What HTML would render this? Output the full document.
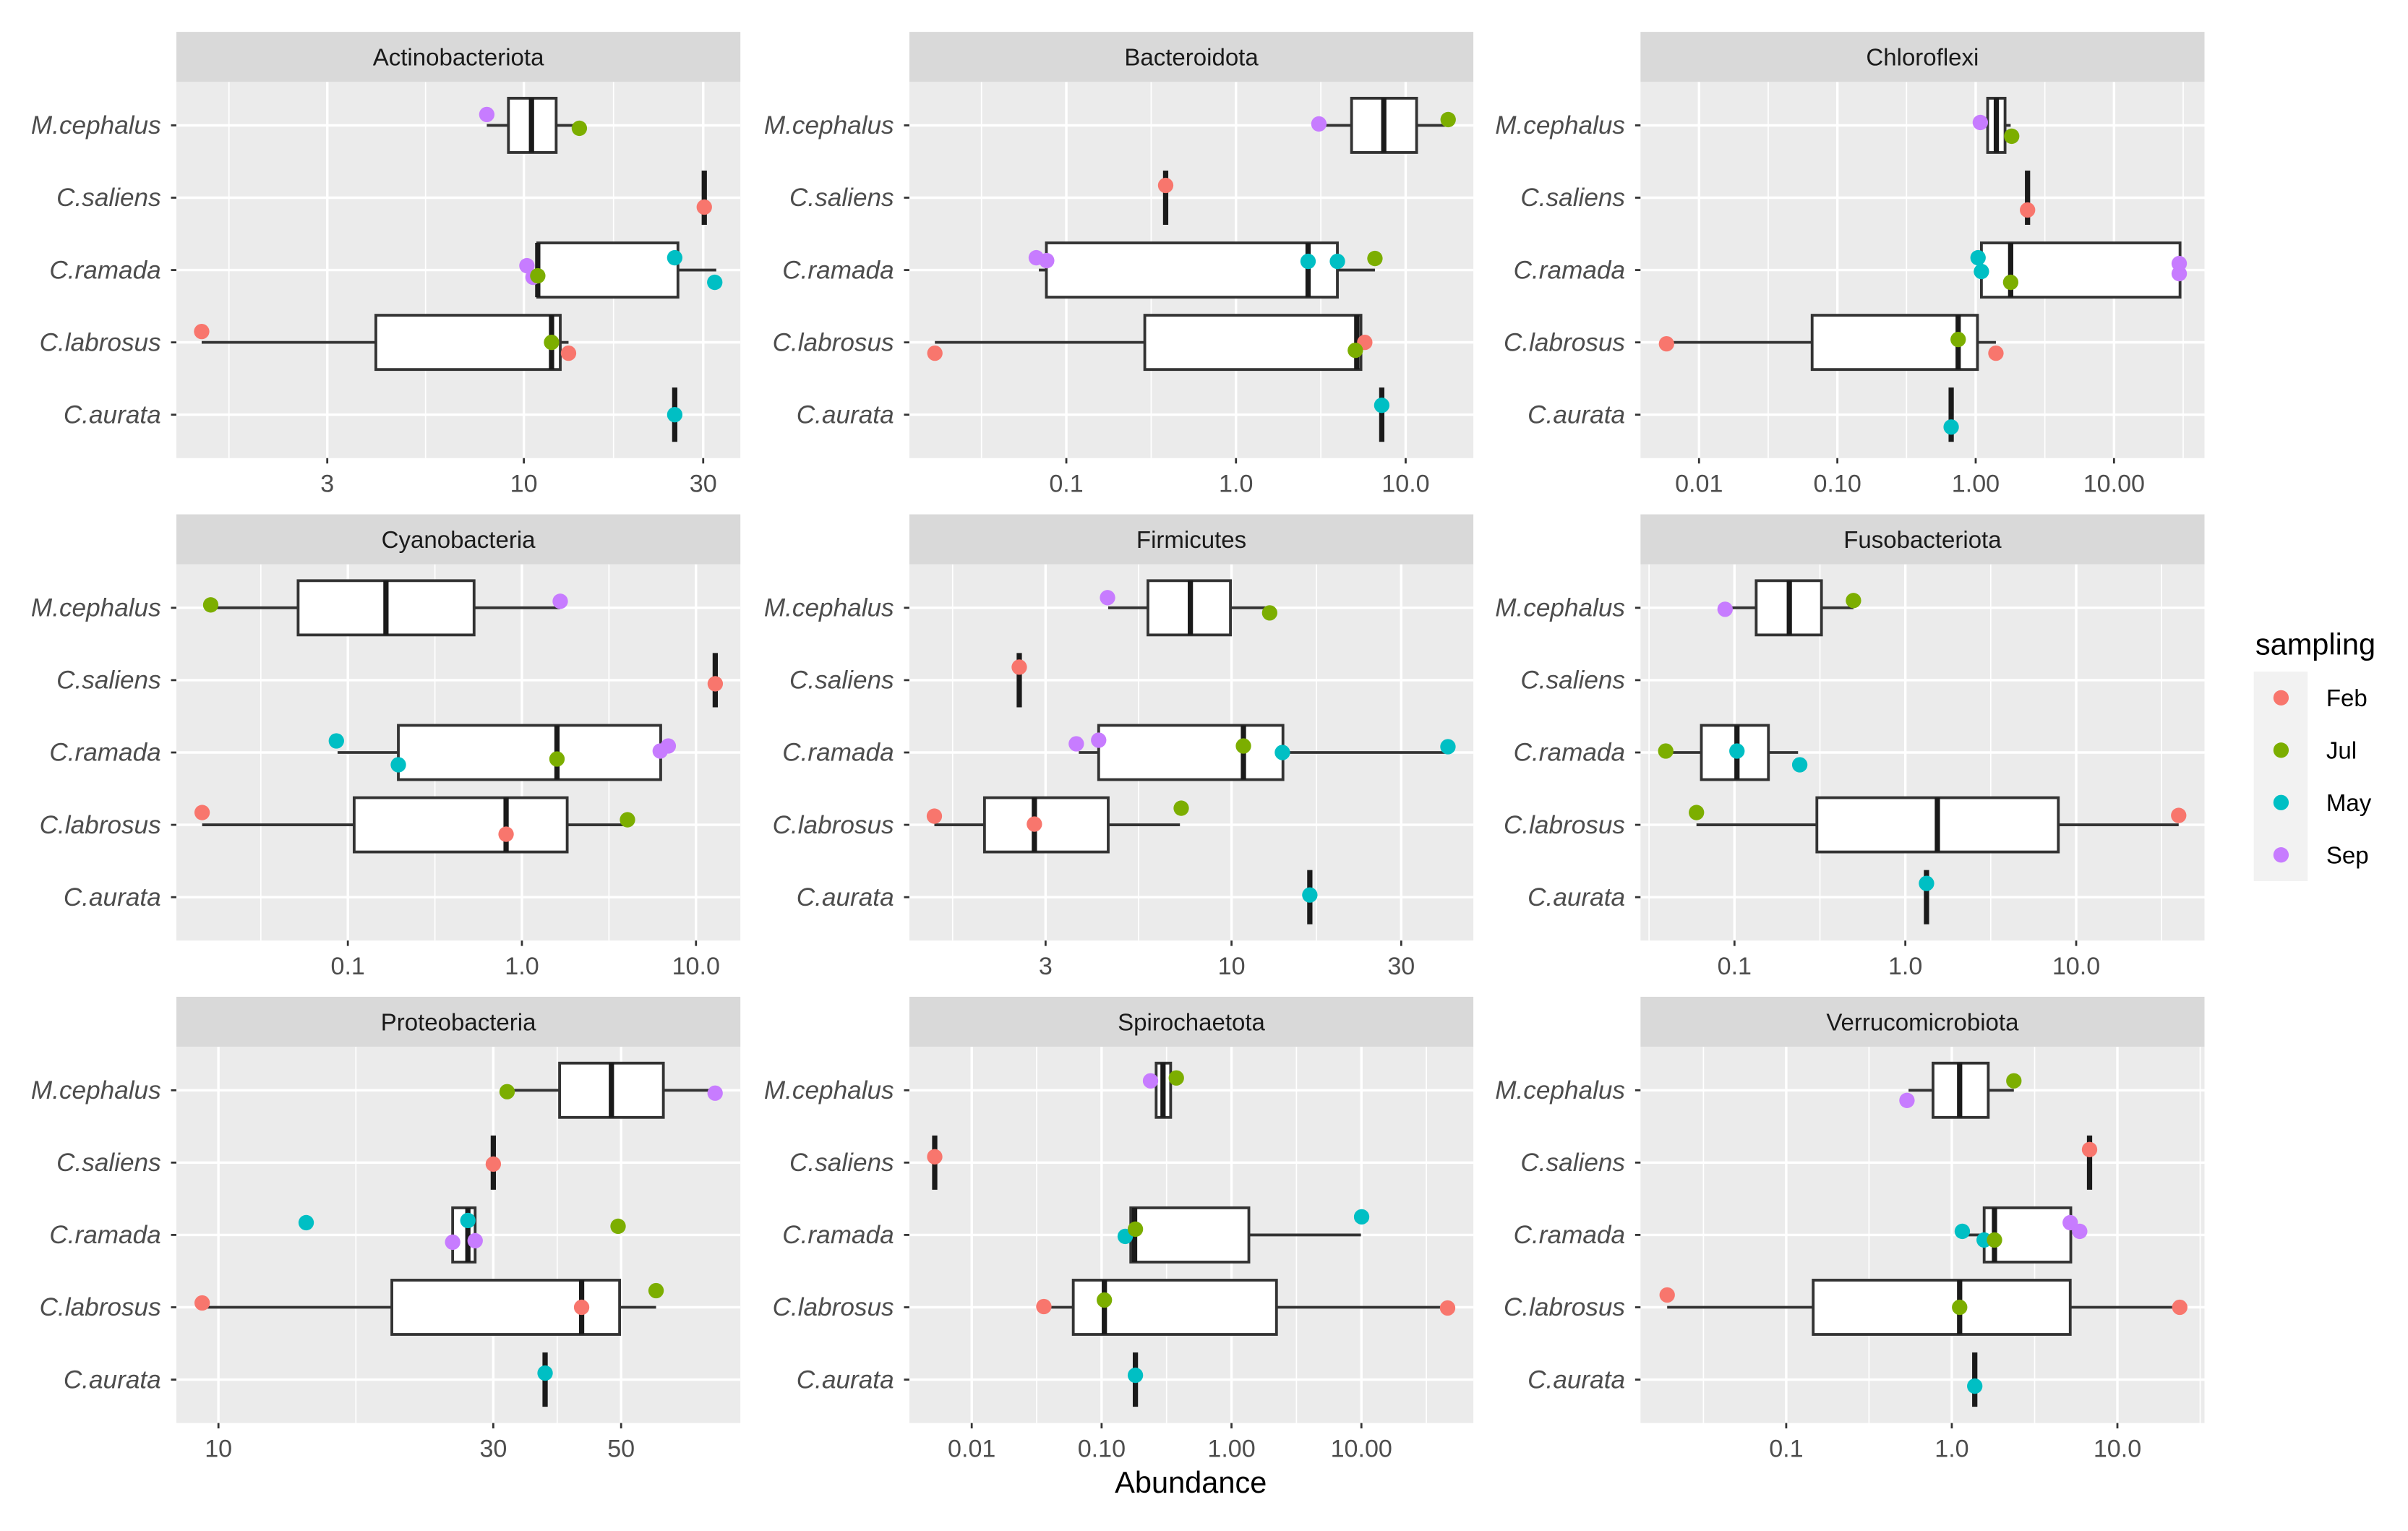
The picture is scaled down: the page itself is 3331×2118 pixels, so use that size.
<!DOCTYPE html>
<html><head><meta charset="utf-8"><style>
html,body{margin:0;padding:0;background:#fff;}
svg{display:block;}
text{font-family:"Liberation Sans",Arial,sans-serif;}
</style></head>
<body>
<svg id="chart" xmlns="http://www.w3.org/2000/svg" width="3331" height="2118" viewBox="0 0 1563.1 993.9" preserveAspectRatio="none"></svg>
<script>
const panelNames = ["Actinobacteriota","Bacteroidota","Chloroflexi","Cyanobacteria","Firmicutes","Fusobacteriota","Proteobacteria","Spirochaetota","Verrucomicrobiota"];
const species = ["M.cephalus","C.saliens","C.ramada","C.labrosus","C.aurata"];
const seasons = ["Feb","Jul","May","Sep"];
const seasonColors = {Feb:"#F8766D",Jul:"#7CAE00",May:"#00BFC4",Sep:"#C77CFF"};
const tickValues = [[3,10,30],[0.1,1,10],[0.01,0.1,1,10],[0.1,1,10],[3,10,30],[0.1,1,10],[10,30,50],[0.01,0.1,1,10],[0.1,1,10]];
const tickLabels = [["3","10","30"],["0.1","1.0","10.0"],["0.01","0.10","1.00","10.00"],["0.1","1.0","10.0"],["3","10","30"],["0.1","1.0","10.0"],["10","30","50"],["0.01","0.10","1.00","10.00"],["0.1","1.0","10.0"]];
// axis limits in log10 units
const logMin = [0.0758,-1.925,-2.423,-1.985,0.0941,-1.550,0.927,-2.480,-1.880];
const logMax = [1.576,1.399,1.654,1.255,1.680,1.751,1.906,1.862,1.526];
// box stats per panel per species: [lowWhisker, q1, median, q3, highWhisker]
const boxActino = [[7.97,9.10,10.48,12.19,14.05],[30.2,30.2,30.2,30.2,30.2],[10.89,10.89,10.89,25.7,32.5],[1.39,4.04,11.85,12.5,13.15],[25.2,25.2,25.2,25.2,25.2]];
const boxBactero = [[3.30,4.80,7.43,11.6,17.1],[0.385,0.385,0.385,0.385,0.385],[0.0689,0.0763,2.66,3.96,6.59],[0.0168,0.29,5.15,5.45,5.74],[7.23,7.23,7.23,7.23,7.23]];
const boxChloro = [[1.08,1.22,1.41,1.63,1.79],[2.37,2.37,2.37,2.37,2.37],[1.10,1.10,1.79,30.0,30.0],[0.00582,0.0657,0.747,1.03,1.40],[0.665,0.665,0.665,0.665,0.665]];
const boxCyano = [[0.0163,0.0518,0.1655,0.531,1.66],[12.9,12.9,12.9,12.9,12.9],[0.0873,0.195,1.59,6.27,6.27],[0.01455,0.1087,0.811,1.82,4.04],null];
const boxFirmi = [[4.50,5.82,7.66,9.93,12.8],[2.53,2.53,2.53,2.53,2.53],[3.72,4.23,10.8,13.95,40.6],[1.46,2.02,2.79,4.50,7.16],[16.6,16.6,16.6,16.6,16.6]];
const boxFuso = [[0.0881,0.134,0.2094,0.323,0.497],null,[0.0396,0.064,0.1034,0.158,0.2356],[0.0599,0.3036,1.54,7.86,39.8],[1.33,1.33,1.33,1.33,1.33]];
const boxProteo = [[31.7,39.1,48.1,59.2,72.8],[30.0,30.0,30.0,30.0,30.0],[25.5,25.5,27.1,27.9,27.9],[9.37,20.0,42.7,49.7,57.5],[36.9,36.9,36.9,36.9,36.9]];
const boxSpiro = [[0.263,0.263,0.297,0.340,0.340],[0.00519,0.00519,0.00519,0.00519,0.00519],[0.1677,0.1677,0.1795,1.36,9.92],[0.0359,0.0605,0.105,2.22,46.1],[0.182,0.182,0.182,0.182,0.182]];
const boxVerruco = [[0.548,0.770,1.115,1.66,2.37],[6.79,6.79,6.79,6.79,6.79],[1.157,1.568,1.81,5.23,5.23],[0.0191,0.1455,1.115,5.19,23.8],[1.376,1.376,1.376,1.376,1.376]];
const boxStats = [boxActino,boxBactero,boxChloro,boxCyano,boxFirmi,boxFuso,boxProteo,boxSpiro,boxVerruco];
// points: [speciesIndex, season, value, jitter (fraction of category band)]
const ptsActino = [[0,"Sep",7.97,-0.15],[0,"Jul",14.05,0.04],[1,"Feb",30.2,0.13],[2,"Sep",10.19,-0.06],[2,"Sep",10.58,0.1],[2,"Jul",10.89,0.08],[2,"May",25.2,-0.17],[2,"May",32.2,0.17],[3,"Feb",1.39,-0.15],[3,"Jul",11.85,0],[3,"Feb",13.15,0.15],[4,"May",25.2,0]];
const ptsBactero = [[0,"Sep",3.08,-0.02],[0,"Jul",17.8,-0.08],[1,"Feb",0.385,-0.17],[2,"Sep",0.0665,-0.17],[2,"Sep",0.0766,-0.13],[2,"May",2.66,-0.12],[2,"May",3.96,-0.12],[2,"Jul",6.59,-0.16],[3,"Feb",0.0168,0.15],[3,"Feb",5.74,0],[3,"Jul",5.05,0.11],[4,"May",7.23,-0.13]];
const ptsChloro = [[0,"Sep",1.08,-0.04],[0,"Jul",1.82,0.15],[1,"Feb",2.37,0.17],[2,"May",1.04,-0.17],[2,"May",1.10,0.02],[2,"Jul",1.79,0.17],[2,"Sep",29.6,-0.09],[2,"Sep",29.6,0.05],[3,"Feb",0.00582,0.02],[3,"Jul",0.747,-0.04],[3,"Feb",1.40,0.15],[4,"May",0.665,0.17]];
const ptsCyano = [[0,"Jul",0.0163,-0.04],[0,"Sep",1.66,-0.09],[1,"Feb",12.9,0.05],[2,"May",0.0859,-0.16],[2,"May",0.195,0.17],[2,"Jul",1.59,0.09],[2,"Sep",6.23,-0.02],[2,"Sep",6.93,-0.09],[3,"Feb",0.01455,-0.17],[3,"Feb",0.811,0.13],[3,"Jul",4.04,-0.07]];
const ptsFirmi = [[0,"Sep",4.48,-0.14],[0,"Jul",12.8,0.07],[1,"Feb",2.53,-0.18],[2,"Sep",3.66,-0.12],[2,"Sep",4.23,-0.17],[2,"Jul",10.8,-0.09],[2,"May",13.9,0],[2,"May",40.6,-0.08],[3,"Feb",1.46,-0.12],[3,"Feb",2.79,-0.01],[3,"Jul",7.22,-0.23],[4,"May",16.6,-0.03]];
const ptsFuso = [[0,"Sep",0.0881,0.02],[0,"Jul",0.497,-0.1],[2,"Jul",0.0396,-0.02],[2,"May",0.1034,-0.02],[2,"May",0.241,0.17],[3,"Jul",0.0599,-0.17],[3,"Feb",39.8,-0.13],[4,"May",1.33,-0.19]];
const ptsProteo = [[0,"Jul",31.7,0.02],[0,"Sep",72.8,0.04],[1,"Feb",30.0,0.02],[2,"May",14.2,-0.17],[2,"May",27.1,-0.2],[2,"Sep",25.5,0.1],[2,"Sep",27.9,0.08],[2,"Jul",49.4,-0.12],[3,"Feb",9.37,-0.06],[3,"Feb",42.7,0],[3,"Jul",57.5,-0.23],[4,"May",36.9,-0.09]];
const ptsSpiro = [[0,"Sep",0.238,-0.13],[0,"Jul",0.376,-0.17],[1,"Feb",0.00519,-0.08],[2,"May",0.152,0.02],[2,"Jul",0.182,-0.08],[2,"May",10.04,-0.25],[3,"Feb",0.0359,-0.01],[3,"Jul",0.105,-0.1],[3,"Feb",46.1,0.01],[4,"May",0.182,-0.06]];
const ptsVerruco = [[0,"Sep",0.536,0.14],[0,"Jul",2.37,-0.13],[1,"Feb",6.79,-0.18],[2,"May",1.157,-0.05],[2,"May",1.568,0.07],[2,"Jul",1.81,0.07],[2,"Sep",5.19,-0.17],[2,"Sep",5.92,-0.05],[3,"Feb",0.0191,-0.17],[3,"Jul",1.115,0],[3,"Feb",23.8,0],[4,"May",1.376,0.09]];
const points = [ptsActino,ptsBactero,ptsChloro,ptsCyano,ptsFirmi,ptsFuso,ptsProteo,ptsSpiro,ptsVerruco];

const NS = "http://www.w3.org/2000/svg";
const svg = document.getElementById("chart");
function mk(tag, attrs, parent){
  const e = document.createElementNS(NS, tag);
  for (const k in attrs) e.setAttribute(k, attrs[k]);
  (parent||svg).appendChild(e);
  return e;
}
const colLeft = [114.5, 590.3, 1064.9];
const rowTop = [53.2, 366.4, 679.6];
const PW = 366.1, PH = 244.2, STRIP = 32.5;
const band = PH / 5.2;

for (let p = 0; p < 9; p++) {
  const L = colLeft[p % 3], T = rowTop[Math.floor(p / 3)];
  const xs = v => L + (Math.log10(v) - logMin[p]) / (logMax[p] - logMin[p]) * PW;
  const ys = i => T + (0.6 + i) * band;
  const g = mk("g", {});
  
  
  const strip = mk("rect", {x: L, y: T - STRIP, width: PW, height: STRIP, fill: "#D9D9D9"}, g);
  
  
  const st = mk("text", {x: L + PW / 2, y: T - STRIP / 2 + 5.5, "text-anchor": "middle", "font-size": 15.5, fill: "#1A1A1A"}, g);
  st.textContent = panelNames[p];
  
  
  const bg = mk("rect", {x: L, y: T, width: PW, height: PH, fill: "#EBEBEB"}, g);
  
  
  const tl = tickValues[p].map(v => Math.log10(v));
  const bd = tl[1] - tl[0];
  const ext = [tl[0] - bd].concat(tl, [tl[tl.length - 1] + bd]);
  for (let i = 0; i < ext.length - 1; i++) {
    const m = (ext[i] + ext[i + 1]) / 2;
    if (m > logMin[p] && m < logMax[p]) {
      const x = xs(Math.pow(10, m));
      const ln = mk("line", {x1: x, x2: x, y1: T, y2: T + PH, stroke: "#fff", "stroke-width": 0.8}, g);
      
      
    }
  }
  for (let i = 0; i < 5; i++) {
    const ln = mk("line", {x1: L, x2: L + PW, y1: ys(i), y2: ys(i), stroke: "#fff", "stroke-width": 1.6}, g);
    
    
    const tk = mk("line", {x1: L - 3.5, x2: L, y1: ys(i), y2: ys(i), stroke: "#333", "stroke-width": 1.3}, g);
    
    
    const lb = mk("text", {x: L - 10, y: ys(i) + 5.5, "text-anchor": "end", "font-size": 16.5, "font-style": "italic", fill: "#4D4D4D"}, g);
    lb.textContent = species[i];
    
    
  }
  tickValues[p].forEach((v, i) => {
    const x = xs(v);
    const ln = mk("line", {x1: x, x2: x, y1: T, y2: T + PH, stroke: "#fff", "stroke-width": 1.6}, g);
    
    
    const tk = mk("line", {x1: x, x2: x, y1: T + PH, y2: T + PH + 3.5, stroke: "#333", "stroke-width": 1.3}, g);
    
    
    const lb = mk("text", {x: x, y: T + PH + 22, "text-anchor": "middle", "font-size": 16, fill: "#4D4D4D"}, g);
    lb.textContent = tickLabels[p][i];
    
    
  });
  boxStats[p].forEach((b, i) => {
    if (!b) return;
    const y = ys(i), h = band * 0.75;
    const bg2 = mk("g", {}, g);
    
    
    mk("line", {x1: xs(b[0]), x2: xs(b[1]), y1: y, y2: y, stroke: "#333", "stroke-width": 1.8}, bg2);
    mk("line", {x1: xs(b[3]), x2: xs(b[4]), y1: y, y2: y, stroke: "#333", "stroke-width": 1.8}, bg2);
    mk("rect", {x: xs(b[1]), y: y - h / 2, width: Math.max(0, xs(b[3]) - xs(b[1])), height: h, fill: "#fff", stroke: "#333", "stroke-width": 1.8}, bg2);
    mk("line", {x1: xs(b[2]), x2: xs(b[2]), y1: y - h / 2, y2: y + h / 2, stroke: "#1A1A1A", "stroke-width": 3.4}, bg2);
  });
  points[p].forEach(pt => {
    const c = mk("circle", {cx: xs(pt[2]), cy: ys(pt[0]) + pt[3] * band, r: 5, fill: seasonColors[pt[1]]}, g);
    
    
  });
}
const xt = mk("text", {x: 773, y: 969, "text-anchor": "middle", "font-size": 19.5, fill: "#000"});
xt.textContent = "Abundance";


const lg = mk("g", {});


const lt = mk("text", {x: 1464, y: 425, "font-size": 19.5, fill: "#000"}, lg);
lt.textContent = "sampling";


mk("rect", {x: 1463, y: 436, width: 35, height: 136, fill: "#F2F2F2"}, lg);
seasons.forEach((s, i) => {
  const y = 453 + i * 34;
  const e = mk("g", {}, lg);
  
  
  mk("circle", {cx: 1480.7, cy: y, r: 5, fill: seasonColors[s]}, e);
  const t = mk("text", {x: 1510, y: y + 5.5, "font-size": 15.5, fill: "#000"}, e);
  t.textContent = s;
});
</script>
</body></html>
